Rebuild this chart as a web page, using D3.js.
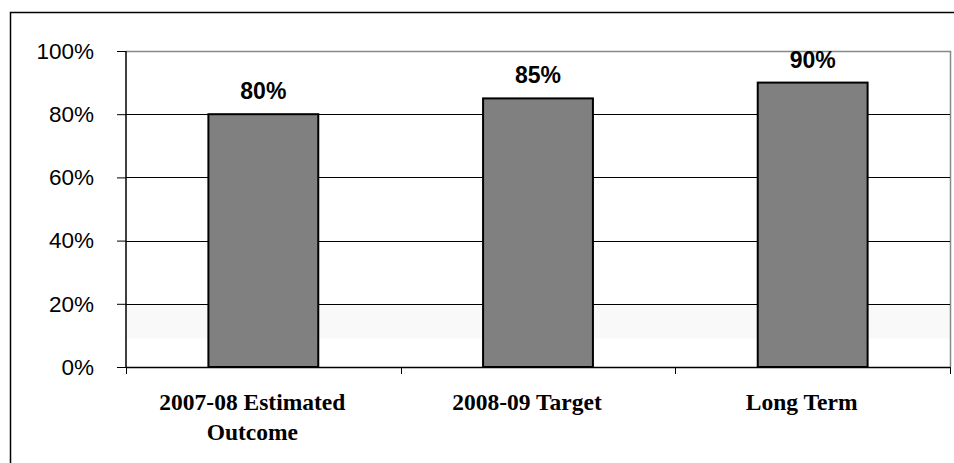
<!DOCTYPE html>
<meta charset="utf-8">
<head>
  <title>D3</title>
  <style>
    body { margin: 0; background: #fff; }
    svg { display: block; }
  </style>
  <script src="https://d3js.org/d3.v7.min.js"></script>
</head>
<body>
  <div id="content"></div>
  <script>
    var categories = [['2007-08 Estimated', 'Outcome'], ['2008-09 Target'], ['Long Term']];
    var values = [80, 85, 90];
    var yTicks = [0, 20, 40, 60, 80, 100];

    var width = 954, height = 463;
    var plotLeft = 126, plotRight = 950, plotTop = 51, plotBottom = 367;

    var svg = d3.select('#content').append('svg')
      .attr('width', width)
      .attr('height', height);

    // outer chart frame (only top and left visible)
    svg.append('path')
      .attr('d', 'M10.5,' + height + 'V12.5H' + width)
      .attr('fill', 'none')
      .attr('stroke', '#000')
      .attr('stroke-width', 1.5);

    var x = d3.scaleBand()
      .domain(d3.range(categories.length))
      .range([plotLeft, plotRight])
      .paddingInner(0.6)
      .paddingOuter(0.3);

    var y = d3.scaleLinear()
      .domain([0, 100])
      .range([plotBottom, plotTop]);

    // faint band in plot background
    svg.append('rect')
      .attr('x', plotLeft).attr('width', plotRight - plotLeft)
      .attr('y', y(20)).attr('height', y(9) - y(20))
      .attr('fill', '#f9f9f9');

    // plot area border (top/right)
    svg.append('path')
      .attr('d', 'M' + plotLeft + ',' + (plotTop + 0.5) + 'H' + (plotRight + 0.5) + 'V' + plotBottom)
      .attr('fill', 'none')
      .attr('stroke', '#888')
      .attr('stroke-width', 1.5);

    // gridlines
    svg.append('g').selectAll('line')
      .data(yTicks.filter(function (d) { return d > 0 && d < 100; }))
      .join('line')
      .attr('x1', plotLeft).attr('x2', plotRight)
      .attr('y1', function (d) { return Math.round(y(d)) + 0.5; })
      .attr('y2', function (d) { return Math.round(y(d)) + 0.5; })
      .attr('stroke', '#000');

    // bars
    svg.append('g').selectAll('rect')
      .data(values)
      .join('rect')
      .attr('x', function (d, i) { return x(i); })
      .attr('width', x.bandwidth())
      .attr('y', function (d) { return y(d); })
      .attr('height', function (d) { return y(0) - y(d); })
      .attr('fill', '#808080')
      .attr('stroke', '#000')
      .attr('stroke-width', 2);

    // value labels
    svg.append('g').selectAll('text')
      .data(values)
      .join('text')
      .attr('x', function (d, i) { return x(i) + x.bandwidth() / 2; })
      .attr('y', function (d) { return y(d) - 15; })
      .attr('text-anchor', 'middle')
      .style('font', 'bold 23px "Liberation Sans", Arial, sans-serif')
      .text(function (d) { return d + '%'; });

    // y axis
    var yAxis = d3.axisLeft(y)
      .tickValues(yTicks)
      .tickSize(9)
      .tickPadding(23)
      .tickFormat(function (d) { return d + '%'; });

    var gy = svg.append('g')
      .attr('transform', 'translate(' + plotLeft + ',0)')
      .call(yAxis);
    gy.select('.domain').attr('stroke', '#000').attr('stroke-width', 1.5)
      .attr('d', 'M0,' + plotTop + 'V' + plotBottom);
    gy.selectAll('.tick line').attr('stroke', '#000');
    gy.selectAll('.tick text')
      .attr('fill', '#000')
      .style('font', '22.5px "Liberation Sans", Arial, sans-serif');

    // x axis line and ticks at band edges
    var edges = d3.range(categories.length + 1).map(function (i) {
      return plotLeft + i * (plotRight - plotLeft) / categories.length;
    });
    svg.append('line')
      .attr('x1', plotLeft).attr('x2', plotRight)
      .attr('y1', plotBottom + 0.5).attr('y2', plotBottom + 0.5)
      .attr('stroke', '#000').attr('stroke-width', 1.5);
    svg.append('g').selectAll('line')
      .data(edges)
      .join('line')
      .attr('x1', function (d) { return Math.round(d) + 0.5; })
      .attr('x2', function (d) { return Math.round(d) + 0.5; })
      .attr('y1', plotBottom).attr('y2', plotBottom + 7)
      .attr('stroke', '#000');

    // category labels
    var cl = svg.append('g').selectAll('text')
      .data(categories)
      .join('text')
      .attr('x', function (d, i) { return x(i) + x.bandwidth() / 2 - 11; })
      .attr('y', 410)
      .attr('text-anchor', 'middle')
      .style('font', 'bold 23.5px "Liberation Serif", "Times New Roman", serif');
    cl.selectAll('tspan')
      .data(function (d) { return d; })
      .join('tspan')
      .attr('x', function () { return d3.select(this.parentNode).attr('x'); })
      .attr('dy', function (d, j) { return j ? 30 : 0; })
      .text(function (d) { return d; });
  </script>
</body>
</html>
